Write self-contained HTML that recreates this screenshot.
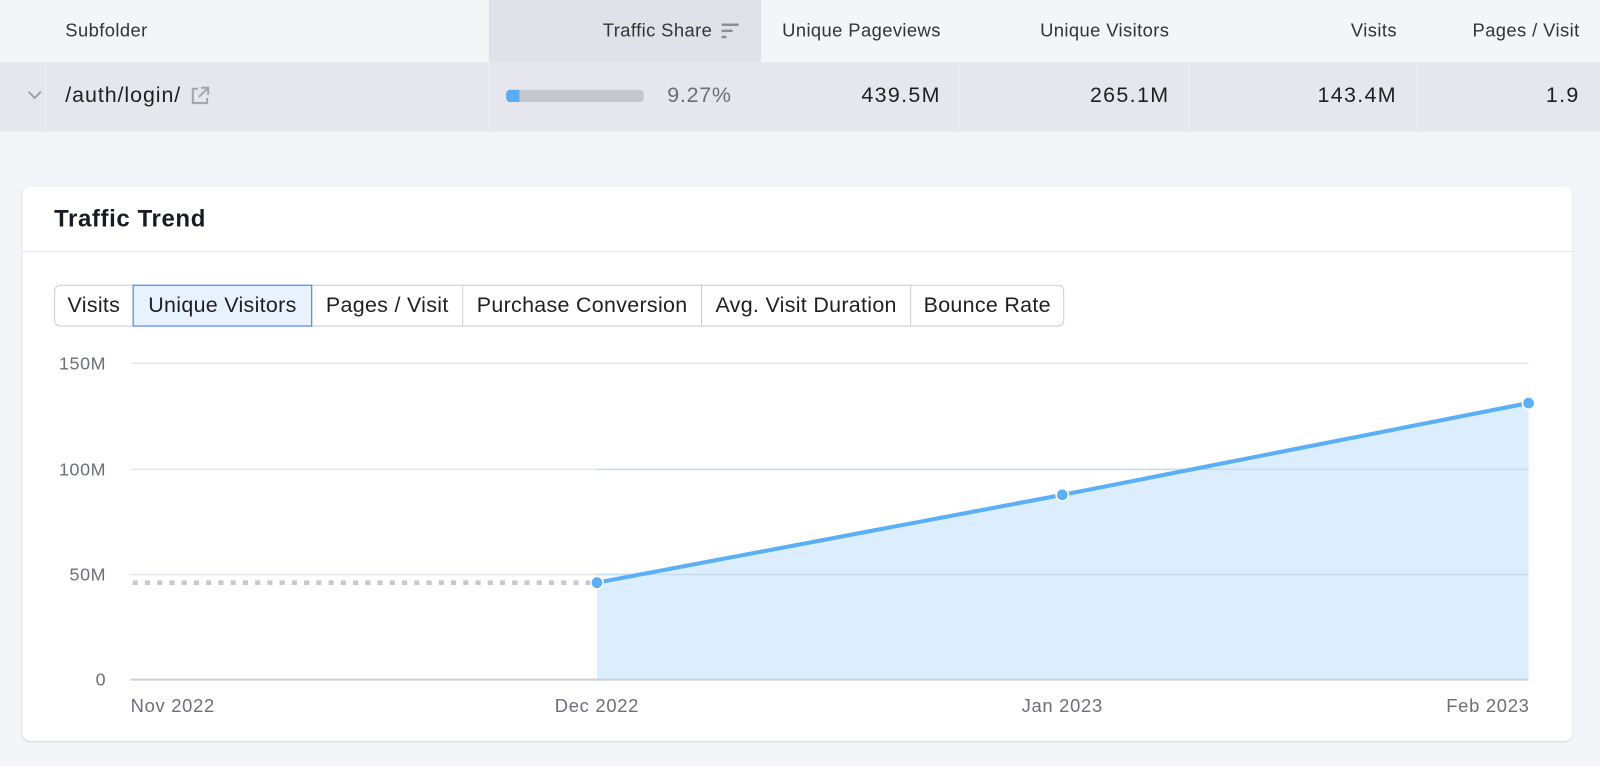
<!DOCTYPE html>
<html><head><meta charset="utf-8">
<style>
*{margin:0;padding:0;box-sizing:border-box}
html,body{width:1600px;height:766px;overflow:hidden;background:#f4f5f9}
body{font-family:"Liberation Sans",Arial,sans-serif;color:#212121}
#wrap{position:absolute;left:0;top:0;width:1568px;height:751px;transform:scale(1.020408);transform-origin:0 0}
.abs{position:absolute}
.hd{font-size:18px;letter-spacing:0.4px;color:#333;top:19px;line-height:22px;white-space:nowrap}
.rd{font-size:21px;color:#1f1f1f;top:82px;line-height:24px;white-space:nowrap}
.num{letter-spacing:1.3px}
.r{text-align:right}
.tab{position:absolute;top:279px;height:41px;border:1px solid #c9cbd2;border-left:none;background:#fff;font-size:21px;letter-spacing:0.3px;line-height:39px;text-align:center;color:#1f1f1f;white-space:nowrap}
.yl{position:absolute;font-size:17.5px;letter-spacing:0.6px;color:#6c6e79;right:1464px;text-align:right;line-height:20px}
.xl{position:absolute;font-size:18px;letter-spacing:0.7px;color:#6c6e79;top:682px;line-height:20px;white-space:nowrap}
</style></head><body>
<div id="wrap">
<!-- header row -->
<div class="abs" style="left:0;top:0;width:1568px;height:61px;background:#f4f5f9"></div>
<div class="abs" style="left:479px;top:0;width:267px;height:61px;background:#e1e2e9"></div>
<div class="abs hd" style="left:64px">Subfolder</div>
<div class="abs hd r" style="right:870px">Traffic Share</div>
<svg class="abs" style="left:707px;top:22px" width="18" height="16"><rect x="0" y="1" width="17" height="2.5" rx="1" fill="#8a8c96"/><rect x="0" y="7" width="11" height="2.5" rx="1" fill="#8a8c96"/><rect x="0" y="13" width="5" height="2.5" rx="1" fill="#8a8c96"/></svg>
<div class="abs hd r" style="right:646px">Unique Pageviews</div>
<div class="abs hd r" style="right:422px">Unique Visitors</div>
<div class="abs hd r" style="right:199px">Visits</div>
<div class="abs hd r" style="right:20px">Pages / Visit</div>
<!-- data row -->
<div class="abs" style="left:0;top:61px;width:1568px;height:68px;background:#e6e7ec"></div>
<div class="abs" style="left:44px;top:61px;width:1px;height:68px;background:#eeeff3"></div>
<div class="abs" style="left:479px;top:61px;width:1px;height:68px;background:#eeeff3"></div>
<div class="abs" style="left:940px;top:61px;width:1px;height:68px;background:#eeeff3"></div>
<div class="abs" style="left:1165px;top:61px;width:1px;height:68px;background:#eeeff3"></div>
<div class="abs" style="left:1388px;top:61px;width:1px;height:68px;background:#eeeff3"></div>
<div class="abs" style="left:0;top:128px;width:1568px;height:1px;background:#e9eaef"></div>
<svg class="abs" style="left:26px;top:88px" width="16" height="10"><polyline points="2,2 8,8 14,2" fill="none" stroke="#9a9ca6" stroke-width="1.8"/></svg>
<div class="abs rd" style="left:64px;letter-spacing:0.9px">/auth/login/</div>
<svg class="abs" style="left:185px;top:83px" width="22" height="22" viewBox="0 0 22 22"><path d="M9 4H4v14h14v-5" fill="none" stroke="#a4a6ae" stroke-width="2"/><path d="M12 3h7v7M19 3l-9 9" fill="none" stroke="#a4a6ae" stroke-width="2"/></svg>
<div class="abs" style="left:496px;top:88px;width:135px;height:12px;border-radius:4px;background:#c5c7ce;overflow:hidden"><div style="width:13px;height:12px;background:#59adf6"></div></div>
<div class="abs rd r" style="right:851px;color:#6c6e79;letter-spacing:0.7px">9.27%</div>
<div class="abs rd r num" style="right:646px">439.5M</div>
<div class="abs rd r num" style="right:422px">265.1M</div>
<div class="abs rd r num" style="right:199px">143.4M</div>
<div class="abs rd r num" style="right:20px">1.9</div>
<!-- card -->
<div class="abs" style="left:22px;top:183px;width:1519px;height:543px;background:#fff;border-radius:8px;box-shadow:0 1px 2px rgba(0,0,0,0.12)"></div>
<div class="abs" style="left:53px;top:201px;font-size:23.5px;letter-spacing:0.6px;font-weight:bold;color:#191b23;line-height:27px">Traffic Trend</div>
<div class="abs" style="left:22px;top:246px;width:1519px;height:1px;background:#e3e4e9"></div>
<!-- tabs -->
<div class="tab" style="left:53px;width:78px;border-left:1px solid #c9cbd2;border-radius:6px 0 0 6px">Visits</div>
<div class="tab" style="left:306px;width:148px">Pages / Visit</div>
<div class="tab" style="left:454px;width:234px">Purchase Conversion</div>
<div class="tab" style="left:688px;width:205px">Avg. Visit Duration</div>
<div class="tab" style="left:893px;width:150px;border-radius:0 6px 6px 0">Bounce Rate</div>
<div class="tab" style="left:130px;width:176px;border:1px solid #2f7ae5;background:#e8f2fe">Unique Visitors</div>
<!-- chart -->
<svg class="abs" style="left:0;top:0" width="1568" height="751">
<line x1="128" y1="356" x2="1498" y2="356" stroke="#e6e7ec" stroke-width="1.5"/>
<line x1="128" y1="460" x2="1498" y2="460" stroke="#e6e7ec" stroke-width="1.5"/>
<line x1="128" y1="563" x2="1498" y2="563" stroke="#e6e7ec" stroke-width="1.5"/>
<polygon points="585,571 1041,485 1498,395 1498,666 585,666" fill="#dceefd"/>
<line x1="585" y1="460" x2="1498" y2="460" stroke="#c9dbef" stroke-width="1.5"/>
<line x1="585" y1="563" x2="1498" y2="563" stroke="#c9dbef" stroke-width="1.5"/>
<line x1="128" y1="666" x2="1498" y2="666" stroke="#cdd0d8" stroke-width="2"/>
<line x1="130" y1="571" x2="580" y2="571" stroke="#c6c8d0" stroke-width="4.5" stroke-dasharray="5,7"/>
<polyline points="585,571 1041,485 1498,395" fill="none" stroke="#5aaff7" stroke-width="4" stroke-linejoin="round"/>
<circle cx="585" cy="571" r="6" fill="#5aaff7" stroke="#fff" stroke-width="1.5"/>
<circle cx="1041" cy="485" r="6" fill="#5aaff7" stroke="#fff" stroke-width="1.5"/>
<circle cx="1498" cy="395" r="6" fill="#5aaff7" stroke="#fff" stroke-width="1.5"/>
</svg>
<div class="yl" style="top:346px">150M</div>
<div class="yl" style="top:450px">100M</div>
<div class="yl" style="top:553px">50M</div>
<div class="yl" style="top:656px">0</div>
<div class="xl" style="left:128px">Nov 2022</div>
<div class="xl" style="left:525px;width:120px;text-align:center">Dec 2022</div>
<div class="xl" style="left:981px;width:120px;text-align:center">Jan 2023</div>
<div class="xl" style="right:69px;text-align:right">Feb 2023</div>
</div>
</body></html>
